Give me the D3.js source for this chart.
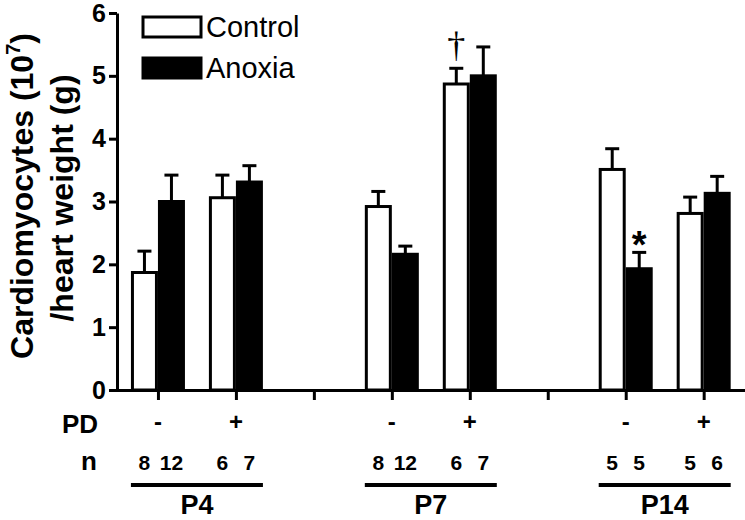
<!DOCTYPE html>
<html>
<head>
<meta charset="utf-8">
<script src="https://cdn.jsdelivr.net/npm/d3@7"></script>
<style>
  body { margin: 0; background: #fff; }
  svg { display: block; font-family: Arial, "Liberation Sans", sans-serif; }
</style>
</head>
<body>
<svg id="chart" width="745" height="520"></svg>
<script>
// ---- data ----
const ageGroups   = ["P4", "P7", "P14"];
const pdLabels    = ["-", "+", "-", "+", "-", "+"];
const conditionAge = ["P4", "P4", "P7", "P7", "P14", "P14"];
const slotIndex   = [0, 1, 3, 4, 6, 7];
const series      = ["Control", "Anoxia"];
const controlMean = [1.87, 3.06, 2.92, 4.87, 3.51, 2.81];
const controlSem  = [0.34, 0.36, 0.24, 0.25, 0.33, 0.26];
const anoxiaMean  = [3.00, 3.31, 2.16, 5.00, 1.93, 3.13];
const anoxiaSem   = [0.42, 0.26, 0.13, 0.46, 0.26, 0.27];
const nControl    = [8, 6, 8, 6, 5, 5];
const nAnoxia     = [12, 7, 12, 7, 5, 6];
const yTicks      = [0, 1, 2, 3, 4, 5, 6];
const allSlots    = [0, 1, 2, 3, 4, 5, 6, 7];
const marks = [
  { cond: 3, series: "Control", symbol: "\u2020" },
  { cond: 4, series: "Anoxia", symbol: "*" }
];

// ---- layout ----
const svg = d3.select("#chart");
const axisX0 = 117, axisY0 = 390;
const y = d3.scaleLinear().domain([0, 6]).range([390, 13]);
const x = d3.scaleLinear().domain([-0.615, 7.53]).range([110, 745]);
const sub = d3.scaleBand().domain(series).range([-27, 27]).padding(0);

const rows = conditionAge.map((age, i) => ({
  i, age, pd: pdLabels[i], slot: slotIndex[i],
  vals: [
    { s: "Control", mean: controlMean[i], sem: controlSem[i], n: nControl[i] },
    { s: "Anoxia",  mean: anoxiaMean[i],  sem: anoxiaSem[i],  n: nAnoxia[i] }
  ]
}));

// x axis (ticks below, no labels)
const xAxis = d3.axisBottom(x).tickValues(allSlots).tickSize(10).tickSizeOuter(0).tickFormat("");
const gx = svg.append("g").attr("transform", `translate(0,${axisY0})`).call(xAxis);
gx.select(".domain").attr("stroke", "#000").attr("stroke-width", 3);
gx.selectAll(".tick line").attr("stroke", "#000").attr("stroke-width", 3);

// y axis
const yAxis = d3.axisLeft(y).tickValues(yTicks).tickSize(8).tickSizeOuter(0).tickPadding(3)
  .tickFormat(d3.format("d"));
const gy = svg.append("g").attr("transform", `translate(${axisX0},0)`).call(yAxis);
gy.select(".domain").attr("stroke", "#000").attr("stroke-width", 3);
gy.selectAll(".tick line").attr("stroke", "#000").attr("stroke-width", 3);
gy.selectAll(".tick text").attr("font-size", 25).attr("font-weight", "bold")
  .attr("font-family", "Arial, 'Liberation Sans', sans-serif").attr("fill", "#000");

// bars
const groups = svg.append("g").selectAll("g.cond").data(rows).join("g")
  .attr("class", "cond")
  .attr("transform", d => `translate(${x(d.slot)},0)`);

const errG = groups.selectAll("g.err").data(d => d.vals).join("g").attr("class", "err");
errG.append("line")
  .attr("x1", d => sub(d.s) + sub.bandwidth() / 2)
  .attr("x2", d => sub(d.s) + sub.bandwidth() / 2)
  .attr("y1", d => y(d.mean)).attr("y2", d => y(d.mean + d.sem))
  .attr("stroke", "#000").attr("stroke-width", 3);
errG.append("line")
  .attr("x1", d => sub(d.s) + sub.bandwidth() / 2 - 7)
  .attr("x2", d => sub(d.s) + sub.bandwidth() / 2 + 7)
  .attr("y1", d => y(d.mean + d.sem)).attr("y2", d => y(d.mean + d.sem))
  .attr("stroke", "#000").attr("stroke-width", 3);

groups.selectAll("rect").data(d => d.vals).join("rect")
  .attr("x", d => sub(d.s) + 1.5)
  .attr("width", sub.bandwidth() - 3)
  .attr("y", d => y(d.mean))
  .attr("height", d => y(0) - y(d.mean))
  .attr("fill", d => d.s === "Control" ? "#fff" : "#000")
  .attr("stroke", "#000").attr("stroke-width", 3);

// significance marks
marks.forEach(m => {
  const r = rows[m.cond];
  const v = r.vals.find(v => v.s === m.series);
  const cx = x(r.slot) + sub(m.series) + sub.bandwidth() / 2;
  const top = y(v.mean + v.sem);
  if (m.symbol === "*") {
    svg.append("text").attr("x", cx).attr("y", top + 6).attr("text-anchor", "middle")
      .attr("font-size", 38).attr("font-weight", "bold").text(m.symbol);
  } else {
    svg.append("text").attr("x", cx).attr("y", top - 11).attr("text-anchor", "middle")
      .attr("font-family", "'Liberation Serif', 'DejaVu Serif', serif")
      .attr("font-size", 36).text(m.symbol);
  }
});

// legend
const legend = svg.append("g");
series.forEach((s, i) => {
  legend.append("rect").attr("x", 143).attr("y", 17 + i * 41).attr("width", 58).attr("height", 20)
    .attr("fill", s === "Control" ? "#fff" : "#000").attr("stroke", "#000").attr("stroke-width", 3);
  legend.append("text").attr("x", 206).attr("y", 37 + i * 41).attr("font-size", 29).text(s);
});

// PD row and n row
svg.append("text").attr("x", 98).attr("y", 433).attr("text-anchor", "end")
  .attr("font-size", 26).attr("font-weight", "bold").text("PD");
svg.append("text").attr("x", 97).attr("y", 470).attr("text-anchor", "end")
  .attr("font-size", 26).attr("font-weight", "bold").text("n");
svg.append("g").selectAll("text").data(rows).join("text")
  .attr("x", d => x(d.slot)).attr("y", 430).attr("text-anchor", "middle")
  .attr("font-size", 24).attr("font-weight", "bold").text(d => d.pd);
rows.forEach(r => {
  svg.append("g").selectAll("text").data(r.vals).join("text")
    .attr("x", d => x(r.slot) + sub(d.s) + sub.bandwidth() / 2)
    .attr("y", 470).attr("text-anchor", "middle")
    .attr("font-size", 21).attr("font-weight", "bold").text(d => d.n);
});

// age group underline + labels
ageGroups.forEach(age => {
  const sl = rows.filter(r => r.age === age).map(r => r.slot);
  const cx = (x(d3.min(sl)) + x(d3.max(sl))) / 2;
  svg.append("line").attr("x1", cx - 66).attr("x2", cx + 66).attr("y1", 485).attr("y2", 485)
    .attr("stroke", "#000").attr("stroke-width", 4);
  svg.append("text").attr("x", cx).attr("y", 514).attr("text-anchor", "middle")
    .attr("font-size", 27).attr("font-weight", "bold").text(age);
});

// y-axis title
const yt = svg.append("text").attr("transform", "translate(33,196) rotate(-90)")
  .attr("text-anchor", "middle").attr("font-size", 32).attr("font-weight", "bold");
yt.append("tspan").text("Cardiomyocytes (10");
yt.append("tspan").attr("font-size", 20).attr("dy", -13).text("7");
yt.append("tspan").attr("dy", 13).text(")");
svg.append("text").attr("transform", "translate(73,198) rotate(-90)")
  .attr("text-anchor", "middle").attr("font-size", 32).attr("font-weight", "bold")
  .text("/heart weight (g)");
</script>
</body>
</html>
